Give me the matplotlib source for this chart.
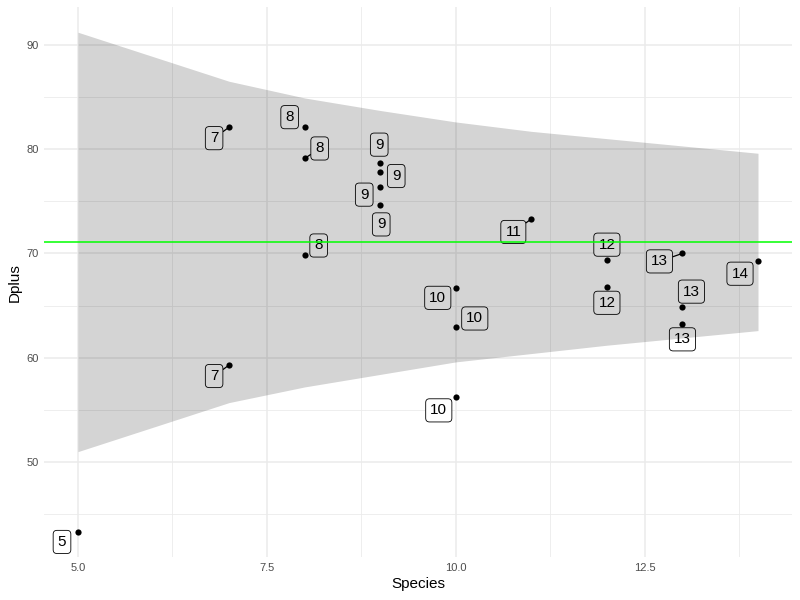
import matplotlib
matplotlib.use("Agg")
import matplotlib.pyplot as plt
import numpy as np

# ---- data ----
species = [5, 7, 7, 8, 8, 8, 9, 9, 9, 9, 10, 10, 10, 11, 12, 12, 13, 13, 13, 14]
dplus = [43.3, 82.1, 59.3, 82.1, 79.1, 69.8, 78.7, 77.8, 76.4, 74.6,
         66.7, 62.9, 56.2, 73.3, 69.4, 66.8, 70.0, 64.9, 63.2, 69.3]
ribbon_x = [5, 7, 8, 9, 10, 11, 12, 13, 14]
ribbon_upper = [91.2, 86.5, 84.9, 83.7, 82.6, 81.7, 81.0, 80.3, 79.6]
ribbon_lower = [51.0, 55.7, 57.2, 58.4, 59.6, 60.4, 61.2, 61.9, 62.6]
mean_dplus = 71.05
x_ticks = [5.0, 7.5, 10.0, 12.5]
y_ticks = [50, 60, 70, 80, 90]

# label offsets in pixels (dx right, dy down) and connector flags -- layout only
label_offsets = [(-16, 10), (-15, 11), (-15, 11), (-15, -10), (15, -10), (14, -10),
                 (-1, -18), (16, 4), (-16, 8), (1, 19),
                 (-18, 10), (19, -9), (-17, 13), (-18, 13),
                 (0, -15), (0, 16), (-23, 8), (9, -15), (0, 15), (-18, 13)]
show_segment = [False, True, True, False, True, False,
                False, False, False, False,
                False, False, False, True,
                False, False, True, False, False, False]

plt.rcParams['font.family'] = ['Liberation Sans', 'DejaVu Sans']

fig = plt.figure(figsize=(8, 6), dpi=100)
ax = fig.add_axes([0.055, 0.0717, 0.935, 0.9163])

ax.set_xlim(4.55, 14.45)
ax.set_ylim(40.9, 93.6)

ax.set_xticks(x_ticks)
ax.set_xticklabels([f"{v:.1f}" for v in x_ticks])
ax.set_yticks(y_ticks)
ax.set_xticks([6.25, 8.75, 11.25, 13.75], minor=True)
ax.set_yticks([45, 55, 65, 75, 85], minor=True)
ax.grid(True, which='major', color='#EBEBEB', linewidth=1.1, zorder=0)
ax.grid(True, which='minor', color='#EBEBEB', linewidth=0.6, zorder=0)
ax.set_axisbelow(True)
for s in ax.spines.values():
    s.set_visible(False)
ax.tick_params(which='both', length=0, labelsize=8, labelcolor='#4D4D4D', pad=4)

ax.scatter(species, dplus, s=20, color='black', zorder=3, linewidths=0)

dpi = fig.dpi
for x, y, lab, (dx, dy), seg in zip(species, dplus, [str(s) for s in species],
                                     label_offsets, show_segment):
    kw = {}
    if seg:
        kw['arrowprops'] = dict(arrowstyle='-', color='black', lw=0.9,
                                shrinkA=0, shrinkB=1)
    ax.annotate(lab, xy=(x, y), xytext=(dx * 72 / dpi, -dy * 72 / dpi),
                textcoords='offset points', ha='center', va='center',
                fontsize=11, color='black', zorder=4,
                bbox=dict(boxstyle='round,pad=0.3,rounding_size=0.25',
                          fc='white', ec='black', lw=0.6), **kw)

ax.fill_between(ribbon_x, ribbon_lower, ribbon_upper, color='black', alpha=0.17,
                linewidth=0, zorder=5)
ax.axhline(mean_dplus, color='#00FF00', linewidth=1.1, zorder=6)

ax.set_xlabel('Species', fontsize=11, labelpad=3)
ax.set_ylabel('Dplus', fontsize=11, labelpad=3)

fig.savefig('out.png', dpi=100)
